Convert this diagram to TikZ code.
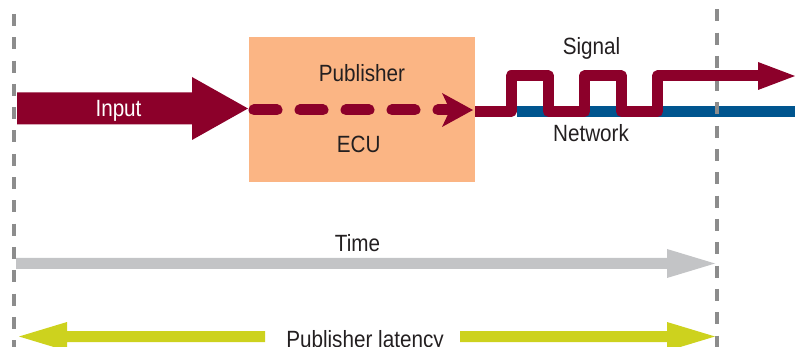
\documentclass[tikz,border=0pt]{standalone}
\usepackage{fontspec}
\setmainfont{Liberation Sans}[FakeStretch=0.88]
\usetikzlibrary{calc}

\definecolor{wine}{RGB}{140,0,42}
\definecolor{ecufill}{RGB}{251,181,132}
\definecolor{netblue}{RGB}{0,85,143}
\definecolor{guidegray}{RGB}{140,140,140}
\definecolor{timegray}{RGB}{195,196,198}
\definecolor{lime}{RGB}{205,210,30}
\definecolor{ink}{RGB}{35,31,32}

% horizontal block arrow: colour, tail, tip, half body width, head length, half head width
\newcommand\blockarrow[6]{%
  \fill[#1] ($(#2)+(0,-#4)$) -- ($(#3)+({-(#5)},-#4)$) -- ($(#3)+({-(#5)},-#6)$)
    -- (#3) -- ($(#3)+({-(#5)},#6)$) -- ($(#3)+({-(#5)},#4)$) -- ($(#2)+(0,#4)$) -- cycle;}

\begin{document}
\begin{tikzpicture}[x=1pt,y=-1pt,
  lbl/.style={font=\fontsize{23.5}{28}\selectfont, text=ink, inner sep=0pt, anchor=base},
  ecubox/.style={fill=ecufill, draw=none, inner sep=0pt, minimum width=226pt, minimum height=145pt},
  guide/.style={guidegray, line width=4pt, dash pattern=on 12pt off 11.3pt},
  wireline/.style={line width=11pt}]
\useasboundingbox (0,0) rectangle (795,347);

% ECU block
\node[ecubox] (ecu) at (362,109.5) {};

% anchor points
\coordinate (inTail) at (17,108.5);
\coordinate (inTip) at (248,108.5);
\coordinate (dashStart) at (254,110);
\coordinate (dashEnd) at (452,110);
\coordinate (dashTip) at (473,110);
\coordinate (sigStart) at (475,111.5);
\coordinate (sigEnd) at (760,76);
\coordinate (sigTip) at (795,76);
\coordinate (netStart) at (517,111.5);
\coordinate (netEnd) at (795,111.5);
\coordinate (timeTail) at (16,263.5);
\coordinate (timeTip) at (715,263.5);
\coordinate (latL0) at (265,336.5);
\coordinate (latL1) at (19,336.5);
\coordinate (latR0) at (460,336.5);
\coordinate (latR1) at (715,336.5);
\coordinate (guideL0) at (14,14);
\coordinate (guideL1) at (14,347);
\coordinate (guideR0) at (716.7,9.3);
\coordinate (guideR1) at (716.7,347);

% input arrow into the ECU
\blockarrow{wine}{inTail}{inTip}{16}{56}{31.5}

% processing path through the ECU
\draw[wine, line width=11pt, line cap=round, dash pattern=on 23pt off 23pt] (dashStart) -- (dashEnd);
\fill[wine] (dashTip) -- ++(-31,-17) -- ++(8,17) -- ++(-8,17) -- cycle;

% network bus
\draw[netblue, wireline] (netStart) -- (netEnd);

% guide lines
\draw[guide] (guideL0) -- (guideL1);
\draw[guide] (guideR0) -- (guideR1);

% signal square wave
\draw[wine, wireline, line join=round]
  (sigStart) -- (511,111.5) -- (511,76) -- (548.5,76) -- (548.5,111.5)
  -- (584.5,111.5) -- (584.5,76) -- (621.5,76) -- (621.5,111.5)
  -- (657.5,111.5) -- (657.5,76) -- (sigEnd);
\fill[wine] (sigTip) -- ++(-37,-14) -- ++(0,28) -- cycle;

% time axis
\blockarrow{timegray}{timeTail}{timeTip}{5.5}{48}{14.5}

% latency span
\blockarrow{lime}{latL0}{latL1}{5.5}{-48}{14.5}
\blockarrow{lime}{latR0}{latR1}{5.5}{48}{14.5}

% labels
\node[lbl, text=white] (inputLbl) at (118.5,117) {Input};
\node[lbl] (pubLbl) at (362,81.7) {Publisher};
\node[lbl] (ecuLbl) at (358.7,152.7) {ECU};
\node[lbl] (sigLbl) at (591.5,55) {Signal};
\node[lbl] (netLbl) at (591,142) {Network};
\node[lbl] (timeLbl) at (357.5,252) {Time};
\node[lbl] (latLbl) at (365,347) {Publisher latency};
\end{tikzpicture}
\end{document}
